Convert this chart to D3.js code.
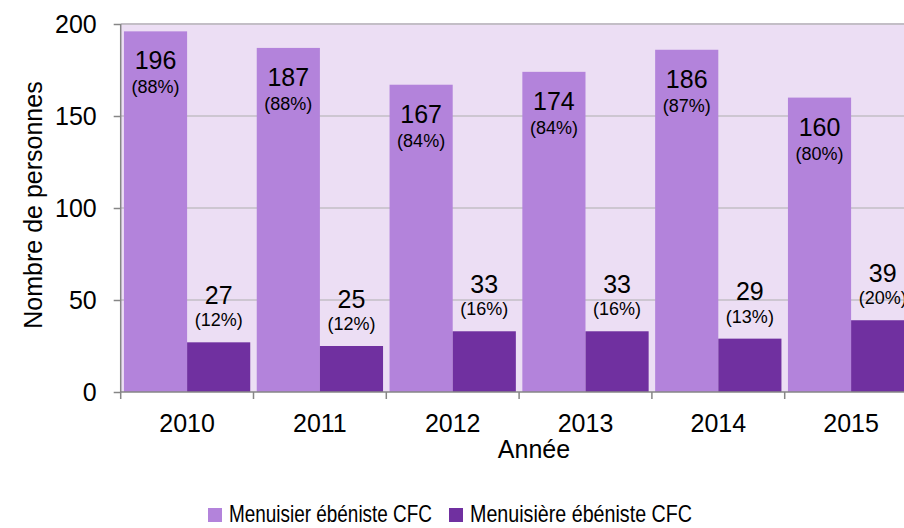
<!DOCTYPE html>
<html lang="fr">
<head>
  <meta charset="UTF-8" />
  <title>Menuisier / Menuisière ébéniste CFC</title>
  <script src="https://cdn.jsdelivr.net/npm/d3@7"></script>
  <style>
    html, body { margin: 0; padding: 0; background: #fff; overflow: hidden; }
    svg { display: block; font-family: "Liberation Sans", Arial, sans-serif; }
  </style>
</head>
<body>
  <script>
    // ------ Data ------
    const years = ["2010", "2011", "2012", "2013", "2014", "2015"];
    const series = ["Menuisier ébéniste CFC", "Menuisière ébéniste CFC"];
    const menuisier = [196, 187, 167, 174, 186, 160];
    const menuisiere = [27, 25, 33, 33, 29, 39];
    const pctMenuisier = [88, 88, 84, 84, 87, 80];
    const pctMenuisiere = [12, 12, 16, 16, 13, 20];
    const yTicks = [0, 50, 100, 150, 200];

    const width = 904, height = 528;
    const colors = ["#B383DB", "#7030A0"];

    // plot area (runs off the right edge like the original)
    const plotLeft = 120.7, plotTop = 24, plotBottom = 392;
    const step = 132.8;
    const plotRight = plotLeft + step * years.length;

    const svg = d3.select("body").append("svg")
      .attr("width", width).attr("height", height);

    const y = d3.scaleLinear().domain([0, 200]).range([plotBottom, plotTop]);
    const x0 = d3.scaleBand().domain(years).range([plotLeft, plotRight])
      .paddingInner(0.049).paddingOuter(0.0245);
    const x1 = d3.scaleBand().domain(series).range([0, x0.bandwidth()]);

    // background
    svg.append("rect")
      .attr("x", plotLeft).attr("y", plotTop)
      .attr("width", width - plotLeft).attr("height", plotBottom - plotTop)
      .attr("fill", "#ECDEF4");

    // gridlines
    svg.append("g").selectAll("line")
      .data(yTicks.filter(d => d > 0))
      .join("line")
      .attr("x1", plotLeft).attr("x2", width)
      .attr("y1", d => y(d)).attr("y2", d => y(d))
      .attr("stroke", "#C3BEC6")
      .attr("stroke-width", d => d === 200 ? 2 : 1.5);

    // bars
    const rows = years.map((yr, i) => ({
      year: yr,
      vals: [
        { s: series[0], v: menuisier[i], p: pctMenuisier[i], k: 0 },
        { s: series[1], v: menuisiere[i], p: pctMenuisiere[i], k: 1 }
      ]
    }));

    const groups = svg.append("g").selectAll("g")
      .data(rows).join("g")
      .attr("transform", d => `translate(${x0(d.year)},0)`);

    groups.selectAll("rect")
      .data(d => d.vals).join("rect")
      .attr("x", d => x1(d.s))
      .attr("y", d => y(d.v))
      .attr("width", x1.bandwidth())
      .attr("height", d => plotBottom - y(d.v))
      .attr("fill", d => colors[d.k]);

    // value labels: inside end for the first series, outside end for the second
    groups.selectAll("text.val")
      .data(d => d.vals).join("text")
      .attr("class", "val")
      .attr("x", d => x1(d.s) + x1.bandwidth() / 2)
      .attr("y", d => d.k === 0 ? y(d.v) + 38 : y(d.v) - 38.5)
      .attr("text-anchor", "middle")
      .attr("font-size", 25)
      .attr("fill", "#000")
      .text(d => d.v);

    groups.selectAll("text.pct")
      .data(d => d.vals).join("text")
      .attr("class", "pct")
      .attr("x", d => x1(d.s) + x1.bandwidth() / 2)
      .attr("y", d => d.k === 0 ? y(d.v) + 62 : y(d.v) - 16)
      .attr("text-anchor", "middle")
      .attr("font-size", 18)
      .attr("fill", "#000")
      .text(d => `(${d.p}%)`);

    // y axis
    const yAxis = svg.append("g")
      .attr("transform", `translate(${plotLeft},0)`)
      .call(d3.axisLeft(y).tickValues(yTicks).tickSize(7).tickPadding(10));
    yAxis.select(".domain").attr("stroke", "#868686").attr("stroke-width", 1.5)
      .attr("d", `M0,${plotTop}V${plotBottom}`);
    yAxis.selectAll(".tick line").attr("stroke", "#868686").attr("stroke-width", 1.5);
    yAxis.selectAll(".tick text")
      .attr("font-size", 25).attr("font-family", "Liberation Sans, Arial, sans-serif")
      .attr("fill", "#000").attr("x", -24).attr("dy", "0.34em");

    // x axis
    const xAxis = svg.append("g")
      .attr("transform", `translate(0,${plotBottom})`);
    xAxis.append("line")
      .attr("x1", plotLeft).attr("x2", width)
      .attr("stroke", "#868686").attr("stroke-width", 1.5);
    const bounds = years.map(yr => x0(yr) - x0.step() * x0.paddingInner() / 2)
      .concat([plotRight]);
    xAxis.selectAll("line.tk").data(bounds).join("line")
      .attr("class", "tk")
      .attr("x1", d => d).attr("x2", d => d)
      .attr("y1", 0).attr("y2", 7)
      .attr("stroke", "#868686").attr("stroke-width", 1.5);
    xAxis.selectAll("text").data(years).join("text")
      .attr("x", d => x0(d) + x0.bandwidth() / 2)
      .attr("y", 40)
      .attr("text-anchor", "middle")
      .attr("font-size", 25)
      .text(d => d);

    // axis titles
    svg.append("text")
      .attr("transform", "translate(42,205) rotate(-90)")
      .attr("text-anchor", "middle")
      .attr("font-size", 25)
      .text("Nombre de personnes");
    svg.append("text")
      .attr("x", 534).attr("y", 458)
      .attr("text-anchor", "middle")
      .attr("font-size", 25)
      .text("Année");

    // legend
    const legendX = [208, 449];
    const legendW = [203, 222];
    const legend = svg.append("g").selectAll("g")
      .data(series).join("g")
      .attr("transform", (d, i) => `translate(${legendX[i]},522)`);
    legend.append("rect")
      .attr("x", 0).attr("y", -14)
      .attr("width", 14).attr("height", 14)
      .attr("fill", (d, i) => colors[i]);
    legend.append("text")
      .attr("x", 21).attr("y", 0)
      .attr("font-size", 24)
      .attr("textLength", (d, i) => legendW[i])
      .attr("lengthAdjust", "spacingAndGlyphs")
      .text(d => d);
  </script>
</body>
</html>
